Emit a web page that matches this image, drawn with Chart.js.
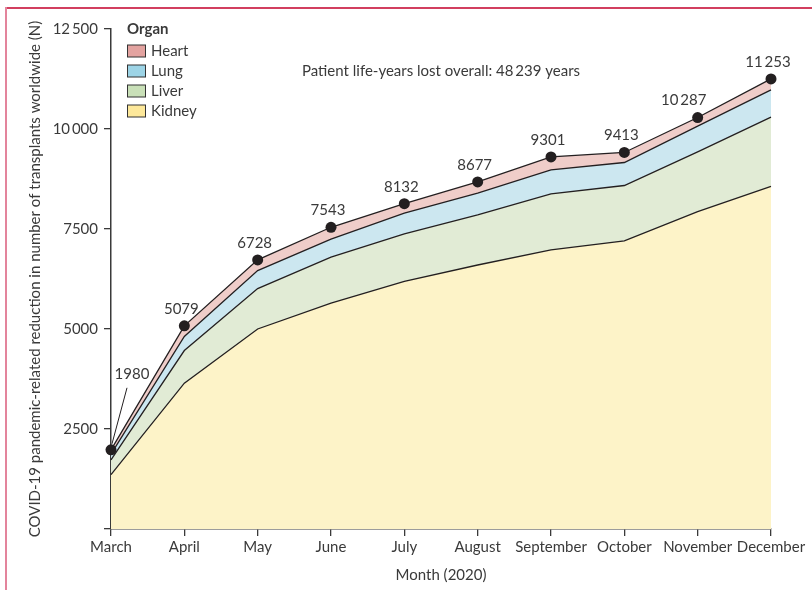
<!DOCTYPE html>
<html>
<head>
<meta charset="utf-8">
<script src="https://cdn.jsdelivr.net/npm/chart.js@4.4.0/dist/chart.umd.min.js"></script>
<style>
body { margin: 0; background: #fff; }
#wrap { position: relative; width: 812px; height: 590px; overflow: hidden; }
#frameTop { position: absolute; left: 5px; top: 7px; right: 0; height: 2px; background: #d23f5f; }
#frameLeft { position: absolute; left: 5px; top: 7px; bottom: 0; width: 2px; background: #e3849c; }
canvas { position: absolute; left: 0; top: 0; }
</style>
</head>
<body>
<div id="wrap">
<canvas id="transplantChart" width="812" height="590"></canvas>
<div id="frameTop"></div>
<div id="frameLeft"></div>
</div>
<script>
// data (stacked, N transplants)
var months = ['March', 'April', 'May', 'June', 'July', 'August', 'September', 'October', 'November', 'December'];
var kidney = [1360, 3645, 5000, 5645, 6188, 6600, 6978, 7203, 7933, 8563];
var liver  = [370, 817, 1010, 1150, 1190, 1253, 1400, 1384, 1495, 1732];
var lung   = [140, 350, 450, 450, 517, 542, 600, 575, 642, 683];
var heart  = [110, 267, 268, 298, 237, 282, 323, 251, 217, 275];
var totals = [1980, 5079, 6728, 7543, 8132, 8677, 9301, 9413, 10287, 11253];
var yTicks = [0, 2500, 5000, 7500, 10000, 12500];

var fillColors   = ['#fdf3c8', '#e1ebd5', '#cce7f0', '#efcdc9'];
var legendColors = ['#fde89a', '#c9e0b8', '#9dd4e6', '#e3a3a0'];
var inkColor = '#231f20';
var textColor = '#3a3a3a';

function fmt(v) {
    var s = String(v);
    if (v >= 10000) s = s.slice(0, s.length - 3) + '\u2009' + s.slice(-3);
    return s;
}

Chart.defaults.font.family = 'Lato';
Chart.defaults.font.size = 15;
Chart.defaults.color = textColor;

function areaSet(label, values, idx) {
    return {
        label: label,
        data: values,
        backgroundColor: fillColors[idx],
        borderColor: inkColor,
        borderWidth: 1.3,
        fill: idx === 0 ? 'origin' : '-1',
        pointRadius: 0,
        tension: 0,
        clip: false
    };
}

var datasets = [
    areaSet('Kidney', kidney, 0),
    areaSet('Liver', liver, 1),
    areaSet('Lung', lung, 2),
    areaSet('Heart', heart, 3)
];
datasets[3].pointRadius = 5.5;
datasets[3].pointBackgroundColor = inkColor;
datasets[3].pointBorderWidth = 0;

var overlay = {
    id: 'overlay',
    afterDatasetsDraw: function (chart) {
        var c = chart.ctx;
        var area = chart.chartArea;
        c.save();
        c.fillStyle = textColor;
        c.font = '15px Lato';
        // totals above points
        var meta = chart.getDatasetMeta(3);
        meta.data.forEach(function (pt, i) {
            c.textAlign = 'center';
            c.textBaseline = 'middle';
            if (i === 0) {
                c.strokeStyle = inkColor;
                c.lineWidth = 1;
                c.beginPath();
                c.moveTo(pt.x + 16, pt.y - 62);
                c.lineTo(pt.x + 1, pt.y - 6);
                c.stroke();
                c.fillText(fmt(totals[i]), pt.x + 21, pt.y - 76);
            } else if (i === 8) {
                c.fillText(fmt(totals[i]), pt.x - 14, pt.y - 17);
            } else {
                c.fillText(fmt(totals[i]), pt.x - 3, pt.y - 17);
            }
        });
        // annotation
        c.textAlign = 'left';
        c.fillText('Patient life-years lost overall: 48\u2009239 years', area.left + 191, area.top + 42);
        // legend
        var lx = area.left + 16, ly = area.top;
        c.font = 'bold 15px Lato';
        c.fillText('Organ', lx, ly);
        c.font = '15px Lato';
        var order = [3, 2, 1, 0];
        order.forEach(function (d, r) {
            var y = ly + 22 + r * 20;
            c.fillStyle = legendColors[d];
            c.fillRect(lx + 0.5, y - 6, 18, 12);
            c.strokeStyle = '#333';
            c.lineWidth = 1;
            c.strokeRect(lx + 0.5, y - 6, 18, 12);
            c.fillStyle = textColor;
            c.fillText(chart.data.datasets[d].label, lx + 24, y);
        });
        c.restore();
    }
};

var ctx = document.getElementById('transplantChart').getContext('2d');
var transplantChart = new Chart(ctx, {
    type: 'line',
    data: {
        labels: months,
        datasets: datasets
    },
    options: {
        responsive: false,
        animation: false,
        layout: { padding: { top: 29, right: 41, left: 0, bottom: 0 } },
        plugins: {
            legend: { display: false },
            tooltip: { enabled: false },
            filler: { drawTime: 'beforeDatasetsDraw' }
        },
        scales: {
            x: {
                z: 1,
                offset: false,
                grid: { drawOnChartArea: false, tickLength: 7, color: '#3a3a3a', lineWidth: 1.3 },
                border: { display: true, color: '#3a3a3a', width: 1.5 },
                ticks: { padding: 2, maxRotation: 0, autoSkip: false },
                title: { display: true, text: 'Month (2020)', padding: { top: 0, bottom: 6 } },
                afterFit: function (scale) { scale.height = 61; }
            },
            y: {
                z: 1,
                stacked: true,
                min: 0,
                max: 12500,
                afterBuildTicks: function (scale) {
                    scale.ticks = yTicks.map(function (v) { return { value: v }; });
                },
                grid: { drawOnChartArea: false, tickLength: 7, color: '#3a3a3a', lineWidth: 1.3 },
                border: { display: true, color: '#3a3a3a', width: 1.5 },
                ticks: {
                    padding: 6,
                    callback: function (v) { return v === 0 ? '' : fmt(v); }
                },
                title: {
                    display: true,
                    text: 'COVID-19 pandemic-related reduction in number of transplants worldwide (N)',
                    padding: { top: 26, bottom: 0 }
                },
                afterFit: function (scale) { scale.width = 111; }
            }
        }
    },
    plugins: [overlay]
});
</script>
</body>
</html>
